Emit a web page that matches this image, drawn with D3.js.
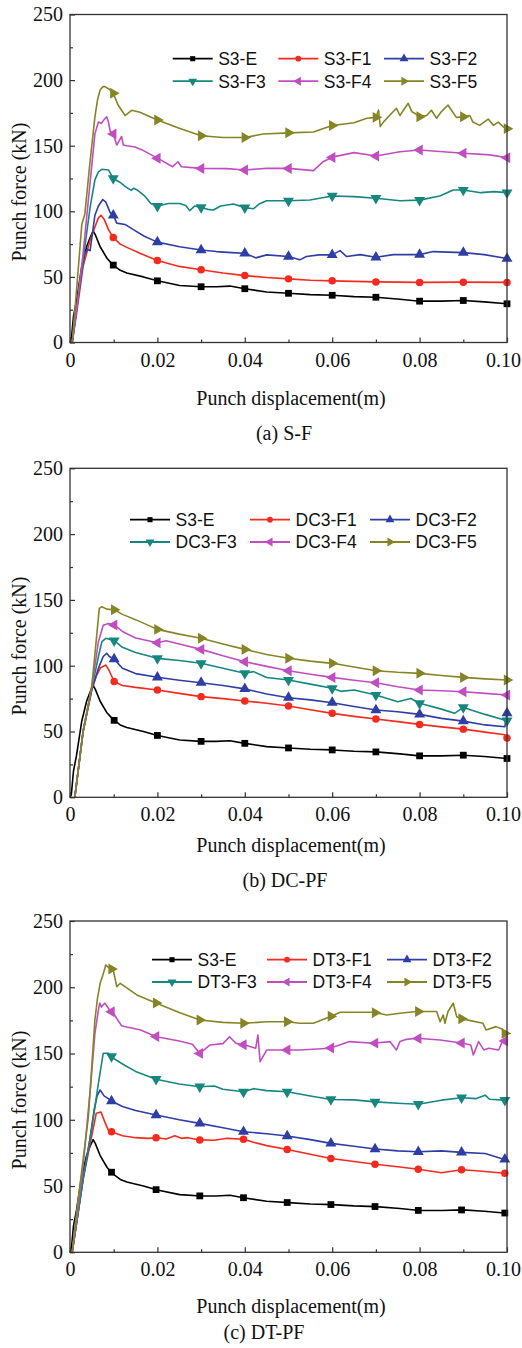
<!DOCTYPE html>
<html>
<head>
<meta charset="utf-8">
<script src="https://cdn.jsdelivr.net/npm/d3@7"></script>
<style>
  html, body { margin: 0; padding: 0; background: #fff; }
  svg { display: block; }
  .tick text { font-family: "Liberation Serif", "Times New Roman", serif; font-size: 20px; fill: #111; }
  .tick line { stroke: #333; stroke-width: 1.2; }
  .axis-title, .caption { font-family: "Liberation Serif", "Times New Roman", serif; font-size: 20px; fill: #111; }
  .legend text { font-family: "Liberation Sans", Arial, sans-serif; font-size: 17.5px; fill: #111; }
</style>
</head>
<body>
<svg id="chart" width="522" height="1348"></svg>
<script>
// ---- Axis ticks ----
const xTicks = [0, 0.02, 0.04, 0.06, 0.08, 0.10];
const xMinorTicks = [0.01, 0.03, 0.05, 0.07, 0.09];
const yTicks = [0, 50, 100, 150, 200, 250];
const yMinorTicks = [25, 75, 125, 175, 225];

// ---- Reference specimen S3-E (same in all three groups): [displacement (m), force (kN)] ----
const s3E = [[0,0],[0.0003,2],[0.0008,20],[0.0015,32],[0.0027,58],[0.0038,73],[0.0046,80],[0.0053,85],[0.0058,82],[0.0069,73],[0.0085,64],[0.0099,59],[0.0115,55],[0.013,53],[0.0168,50],[0.02,47],[0.0251,43.5],[0.03,42.5],[0.0335,42.5],[0.0366,43],[0.04,41],[0.045,38.5],[0.05,37.5],[0.055,36.5],[0.06,36],[0.065,35],[0.07,34.5],[0.0755,33],[0.08,31.5],[0.085,31.5],[0.09,32],[0.0948,31],[0.1,29.5]];

// ---- (a) S-F ----
const s3F1 = [[0.0005,0],[0.0015,22],[0.003,58],[0.0046,78],[0.0057,88],[0.0065,95],[0.0071,97],[0.0078,94],[0.0088,86],[0.0099,80],[0.0115,75],[0.013,72.5],[0.016,68],[0.02,62.5],[0.025,58],[0.03,55.5],[0.035,53],[0.04,51],[0.045,49.5],[0.05,48.5],[0.055,47.5],[0.06,47],[0.07,46.2],[0.08,45.8],[0.09,46],[0.1,45.8]];
const s3F2 = [[0.0005,0],[0.0015,25],[0.0027,55],[0.0034,68],[0.004,71],[0.0046,70],[0.005,80],[0.0057,97],[0.0065,104],[0.0075,109],[0.0082,107],[0.0092,99],[0.0099,97],[0.0107,91],[0.0126,90],[0.0145,86],[0.017,81],[0.02,76.5],[0.0251,73],[0.03,70.5],[0.0335,69.3],[0.037,68.5],[0.04,68],[0.0425,64.5],[0.045,66.8],[0.05,65.5],[0.0526,63],[0.0541,65.5],[0.057,66.8],[0.06,66.8],[0.0618,70],[0.0633,65.5],[0.0664,67],[0.07,65],[0.074,67],[0.08,67],[0.0831,69.3],[0.09,68.5],[0.0948,67],[0.1,64]];
const s3F3 = [[0.0005,0],[0.0015,25],[0.003,63],[0.0046,103],[0.0057,124],[0.0065,130],[0.0073,132],[0.0088,131.5],[0.0099,125],[0.0115,122],[0.0126,119],[0.014,116],[0.0145,117.5],[0.0155,116],[0.017,112],[0.0185,106],[0.02,104],[0.0225,106],[0.0251,106],[0.0265,104.5],[0.0274,100.5],[0.0285,104],[0.03,103],[0.0315,101.5],[0.0328,101],[0.0345,104],[0.0374,105.5],[0.04,102.8],[0.042,102],[0.0435,106],[0.045,108],[0.05,108],[0.0549,108.6],[0.06,111.7],[0.065,111.2],[0.07,110],[0.0755,108],[0.08,108.5],[0.0846,111.7],[0.0877,116.2],[0.09,116.2],[0.094,114.2],[0.097,115],[0.1,114.2]];
const s3F4 = [[0.0005,0],[0.0015,25],[0.003,68],[0.0046,122],[0.0057,159],[0.0065,168],[0.0072,167],[0.0076,169],[0.0084,172],[0.0088,168],[0.0092,161],[0.0099,159],[0.0107,150.5],[0.0118,157],[0.0122,150.5],[0.013,150],[0.0149,149],[0.0165,146.8],[0.02,140.5],[0.0235,134],[0.0247,137.8],[0.0255,134],[0.03,132.7],[0.0359,132.5],[0.04,131.5],[0.045,132.7],[0.05,132.7],[0.0557,131],[0.058,138],[0.0603,141.5],[0.065,144.7],[0.07,142.2],[0.0755,145.4],[0.08,146.7],[0.09,144.2],[0.0961,143],[0.1,140.8]];
const s3F5 = [[0.0005,0],[0.0015,40],[0.0027,90],[0.0034,98],[0.0045,135],[0.0057,172],[0.0063,185],[0.0069,192.5],[0.0075,195],[0.008,195],[0.009,193],[0.0099,190],[0.011,181],[0.0126,173],[0.0141,177],[0.016,175.5],[0.02,169.6],[0.025,163.3],[0.03,157.6],[0.035,156.3],[0.04,156.3],[0.0442,158.9],[0.05,159.8],[0.0557,160.4],[0.06,165.4],[0.065,167.5],[0.0679,170.9],[0.07,171.6],[0.0706,177.2],[0.071,164.5],[0.0717,168],[0.0736,174.7],[0.0747,178.5],[0.0755,173],[0.0763,177],[0.0774,182.3],[0.0782,176],[0.0789,174.7],[0.08,172],[0.0816,173],[0.0827,177],[0.0839,170.9],[0.085,176],[0.0865,181],[0.0873,177],[0.0884,171.6],[0.09,172],[0.0915,173],[0.0922,168],[0.0937,165.5],[0.0957,170.3],[0.0969,165.5],[0.098,168],[0.0991,164.5],[0.1,163]];

// ---- (b) DC-PF ----
const dc3F1 = [[0.0011,0],[0.003,50],[0.005,82],[0.006,92],[0.007,98.5],[0.0082,100.5],[0.009,96],[0.0101,88],[0.012,85],[0.015,83.5],[0.02,81.5],[0.025,79],[0.03,76.5],[0.035,75],[0.04,73.2],[0.045,71.5],[0.05,69.4],[0.055,66.5],[0.06,63.8],[0.065,61.5],[0.07,59.5],[0.075,57.5],[0.08,55.4],[0.085,53.5],[0.09,51.8],[0.095,49.5],[0.0995,47.5],[0.1,45]];
const dc3F2 = [[0.0011,0],[0.003,50],[0.005,82],[0.0065,98],[0.0076,107],[0.0084,109.4],[0.009,107],[0.0101,105],[0.012,98],[0.015,94],[0.02,91.2],[0.025,89],[0.03,87.1],[0.035,85],[0.04,82.4],[0.045,78.5],[0.05,75.7],[0.055,74],[0.06,71.9],[0.065,69],[0.07,66.3],[0.075,65],[0.08,63],[0.085,60],[0.09,57.9],[0.095,55],[0.0995,53.6],[0.1,64]];
const dc3F3 = [[0.0011,0],[0.003,50],[0.005,83],[0.0065,107],[0.0073,118.3],[0.0082,120.8],[0.0092,120],[0.0101,119],[0.012,114],[0.015,110],[0.02,105.6],[0.025,104],[0.03,101.8],[0.035,98],[0.04,94.2],[0.042,95.5],[0.045,91],[0.05,89.1],[0.055,86],[0.06,82.8],[0.062,80.5],[0.065,81.5],[0.07,77.7],[0.075,72.6],[0.078,75.1],[0.08,71.4],[0.085,67],[0.088,63.8],[0.09,68.3],[0.095,63],[0.1,58.2]];
const dc3F4 = [[0.0011,0],[0.003,50],[0.005,84],[0.0065,118.2],[0.0076,130.8],[0.0088,132],[0.0101,131],[0.012,126],[0.015,121],[0.02,117.5],[0.022,119],[0.025,116.5],[0.03,112.4],[0.035,107.5],[0.04,103],[0.045,99.5],[0.05,96.2],[0.055,93.5],[0.06,91.1],[0.065,89],[0.07,87.1],[0.075,84],[0.08,81.5],[0.085,81],[0.09,80.2],[0.095,79],[0.1,77.7]];
const dc3F5 = [[0.0011,0],[0.003,50],[0.005,85],[0.0058,112],[0.0067,143.6],[0.0073,144.8],[0.0084,143],[0.0101,142.5],[0.012,139],[0.015,135],[0.02,127.6],[0.025,124],[0.03,120.8],[0.035,116.5],[0.04,112.4],[0.045,108.5],[0.05,105.6],[0.055,103.5],[0.06,101.8],[0.065,99],[0.07,96.2],[0.075,95],[0.08,94.2],[0.085,92.5],[0.09,91.1],[0.095,90],[0.1,89.1]];

// ---- (c) DT-PF ----
const dt3F1 = [[0.0005,0],[0.0015,22],[0.003,55],[0.0045,80],[0.006,104.9],[0.0071,105.8],[0.008,98],[0.0088,92],[0.0095,91],[0.012,88],[0.015,86.5],[0.018,86],[0.02,86.5],[0.022,85.5],[0.024,88],[0.0255,86],[0.027,86.5],[0.0297,84.8],[0.033,84.5],[0.036,86],[0.0397,85.3],[0.042,83],[0.045,80.5],[0.0497,77.6],[0.055,74],[0.0597,70.8],[0.065,68.5],[0.0698,66.5],[0.075,64.5],[0.0797,62.7],[0.085,60],[0.0896,62.3],[0.093,61.5],[0.0995,59.6]];
const dt3F2 = [[0.0005,0],[0.0015,22],[0.003,56],[0.0045,84],[0.0055,107],[0.0062,118],[0.0069,122.5],[0.0078,118],[0.0095,114.2],[0.012,110],[0.015,107],[0.0197,103.6],[0.025,100],[0.0297,97.3],[0.035,94],[0.0397,91],[0.045,89.5],[0.0497,87.7],[0.055,85],[0.0597,82.2],[0.065,80],[0.0698,77.9],[0.075,76.5],[0.0797,75.9],[0.085,76.5],[0.0896,75.4],[0.095,74.6],[0.0985,71],[0.0995,70.2]];
const dt3F3 = [[0.0005,0],[0.0015,22],[0.003,55],[0.005,94],[0.0065,127.5],[0.0076,150.2],[0.0088,150.2],[0.0099,146.4],[0.0126,141],[0.015,136.5],[0.0197,130.6],[0.025,127],[0.0297,124.9],[0.033,125.5],[0.035,123],[0.0397,121.1],[0.042,123.5],[0.045,122],[0.0497,121.1],[0.055,118],[0.0597,115.3],[0.065,115],[0.0698,113.5],[0.075,112.5],[0.0797,111.7],[0.085,114.8],[0.0896,116.6],[0.093,116],[0.095,118.6],[0.096,115.5],[0.0995,114.8]];
const dt3F4 = [[0.0005,0],[0.0015,25],[0.003,65],[0.0047,125],[0.0057,165],[0.0065,183],[0.0068,188],[0.0072,185],[0.0076,186.8],[0.008,188],[0.009,183],[0.0099,180.4],[0.0118,171],[0.013,170],[0.016,168],[0.0198,162.7],[0.025,159.5],[0.028,157],[0.0297,150.1],[0.032,156.4],[0.035,157.5],[0.0365,162.7],[0.038,157.7],[0.04,156.4],[0.0425,154],[0.043,164],[0.0435,143.9],[0.045,152.6],[0.0497,152.6],[0.0526,152.7],[0.0595,154],[0.064,159],[0.0694,157.7],[0.0732,159],[0.0747,152.7],[0.0755,159],[0.077,160.7],[0.0793,161.5],[0.0847,160.2],[0.09,157.7],[0.0917,156.4],[0.0923,148.9],[0.0935,159],[0.0947,152.7],[0.0958,154],[0.0981,152.7],[0.0989,159],[0.0997,159.5]];
const dt3F5 = [[0.0005,0],[0.0015,30],[0.003,70],[0.0042,102],[0.0057,175.3],[0.0063,192],[0.0069,203],[0.0075,209],[0.0082,216.8],[0.0088,215],[0.0099,213],[0.0107,200.5],[0.0115,203],[0.0153,194.2],[0.0198,188],[0.025,181],[0.0297,175.3],[0.035,173.5],[0.0397,172.8],[0.045,174],[0.0497,174],[0.0526,172.8],[0.0557,172.8],[0.0595,177.8],[0.0618,181.1],[0.0694,181.1],[0.0725,179.1],[0.0755,180.4],[0.0793,181.7],[0.0839,181.7],[0.0847,174],[0.0854,179.1],[0.0858,172.8],[0.0865,181.7],[0.0877,187.9],[0.0885,177.8],[0.0892,176.5],[0.0945,172.8],[0.0952,167.8],[0.0975,170.3],[0.099,168.3],[0.0999,162.7]];

// ---- Series names ----
const namesA = ["S3-E", "S3-F1", "S3-F2", "S3-F3", "S3-F4", "S3-F5"];
const namesB = ["S3-E", "DC3-F1", "DC3-F2", "DC3-F3", "DC3-F4", "DC3-F5"];
const namesC = ["S3-E", "DT3-F1", "DT3-F2", "DT3-F3", "DT3-F4", "DT3-F5"];

// Displacements at which the symbols are placed along each curve
const markerXA = [0.0099, 0.02, 0.03, 0.04, 0.05, 0.06, 0.07, 0.08, 0.09, 0.1];
const markerXB = [0.0101, 0.02, 0.03, 0.04, 0.05, 0.06, 0.07, 0.08, 0.09, 0.1];
const markerXC = [0.0095, 0.0197, 0.0297, 0.0397, 0.0497, 0.0597, 0.0698, 0.0797, 0.0896, 0.0995];

// ---- Styles (one per series position) ----
const styles = [
  { color: "#000000", shape: "square" },
  { color: "#f52a1e", shape: "circle" },
  { color: "#2e3ea5", shape: "up" },
  { color: "#16877f", shape: "down" },
  { color: "#c04ec0", shape: "left" },
  { color: "#858526", shape: "right" }
];

const panels = [
  { names: namesA, data: [s3E, s3F1, s3F2, s3F3, s3F4, s3F5], markerX: markerXA, caption: "(a) S-F",
    top: 14.5, bottom: 342.5, legendX: [172.7, 278.3, 384], legendBase: [65, 87.5],
    yTitleY: 192, xTitleBase: 405, captionX: 284, captionBase: 440 },
  { names: namesB, data: [s3E, dc3F1, dc3F2, dc3F3, dc3F4, dc3F5], markerX: markerXB, caption: "(b) DC-PF",
    top: 468.3, bottom: 797.3, legendX: [130, 250, 370], legendBase: [526, 548.3],
    yTitleY: 646, xTitleBase: 852, captionX: 285, captionBase: 887 },
  { names: namesC, data: [s3E, dt3F1, dt3F2, dt3F3, dt3F4, dt3F5], markerX: markerXC, caption: "(c) DT-PF",
    top: 921, bottom: 1252.3, legendX: [152, 267, 387], legendBase: [966, 988.3],
    yTitleY: 1100, xTitleBase: 1312.5, captionX: 264, captionBase: 1339 }
];

const svg = d3.select("#chart");
const plotLeft = 70, plotRight = 507;

function symbolPath(shape, size) {
  const type = shape === "square" ? d3.symbolSquare : shape === "circle" ? d3.symbolCircle : d3.symbolTriangle;
  return d3.symbol().type(type).size(size)();
}
function symbolRotation(shape) {
  return shape === "down" ? 180 : shape === "left" ? -90 : shape === "right" ? 90 : 0;
}
// Force on a curve at displacement xv (linear between recorded points)
function forceAt(series, xv) {
  const i = d3.bisector(d => d[0]).left(series, xv);
  if (i <= 0) return series[0][1];
  if (i >= series.length) return series[series.length - 1][1];
  const a = series[i - 1], b = series[i];
  return a[1] + (b[1] - a[1]) * (xv - a[0]) / (b[0] - a[0]);
}
const fmtX = d => d === 0 ? "0" : d.toFixed(2);

panels.forEach(p => {
  const g = svg.append("g");
  const x = d3.scaleLinear().domain([0, 0.1]).range([plotLeft, plotRight]);
  const y = d3.scaleLinear().domain([0, 250]).range([p.bottom, p.top]);

  // Curves
  const line = d3.line().x(d => x(d[0])).y(d => y(d[1]));
  p.data.forEach((series, k) => {
    g.append("path").datum(series)
      .attr("fill", "none").attr("stroke", styles[k].color)
      .attr("stroke-width", 1.6).attr("stroke-linejoin", "round")
      .attr("d", line);
  });
  // Symbols along the curves
  p.data.forEach((series, k) => {
    const st = styles[k];
    const size = st.shape === "square" ? 46 : st.shape === "circle" ? 44 : 52;
    g.append("g").selectAll("path").data(p.markerX).join("path")
      .attr("d", symbolPath(st.shape, size))
      .attr("fill", st.color)
      .attr("transform", xv => `translate(${x(xv)},${y(forceAt(series, xv))}) rotate(${symbolRotation(st.shape)})`);
  });

  // Frame
  g.append("rect").attr("x", plotLeft).attr("y", p.top)
    .attr("width", plotRight - plotLeft).attr("height", p.bottom - p.top)
    .attr("fill", "none").attr("stroke", "#333").attr("stroke-width", 1.3);

  // Axes with inward ticks
  const xAxis = g.append("g").attr("transform", `translate(0,${p.bottom})`)
    .call(d3.axisBottom(x).tickValues(xTicks).tickSize(-5).tickPadding(10).tickFormat(fmtX));
  xAxis.select(".domain").remove();
  // keep the last label inside the page edge
  xAxis.selectAll(".tick text").filter(d => d === 0.10).attr("dx", -4);
  const xMinor = g.append("g").attr("transform", `translate(0,${p.bottom})`)
    .call(d3.axisBottom(x).tickValues(xMinorTicks).tickSize(-3).tickFormat(""));
  xMinor.select(".domain").remove();

  const yAxis = g.append("g").attr("transform", `translate(${plotLeft},0)`)
    .call(d3.axisLeft(y).tickValues(yTicks).tickSize(-5).tickPadding(7));
  yAxis.select(".domain").remove();
  const yMinor = g.append("g").attr("transform", `translate(${plotLeft},0)`)
    .call(d3.axisLeft(y).tickValues(yMinorTicks).tickSize(-3).tickFormat(""));
  yMinor.select(".domain").remove();

  g.selectAll(".tick text").attr("font-family", null).attr("font-size", null);

  // Axis titles and caption
  g.append("text").attr("class", "axis-title")
    .attr("transform", `translate(26,${p.yTitleY}) rotate(-90)`)
    .attr("text-anchor", "middle").text("Punch force (kN)");
  g.append("text").attr("class", "axis-title")
    .attr("x", 291).attr("y", p.xTitleBase)
    .attr("text-anchor", "middle").text("Punch displacement(m)");
  g.append("text").attr("class", "caption")
    .attr("x", p.captionX).attr("y", p.captionBase)
    .attr("text-anchor", "middle").text(p.caption);

  // Legend: two rows of three
  const lg = g.append("g").attr("class", "legend");
  p.names.forEach((name, k) => {
    const col = k % 3, row = Math.floor(k / 3);
    const lx = p.legendX[col], base = p.legendBase[row], cy = base - 6.3;
    const st = styles[k];
    lg.append("line").attr("x1", lx).attr("x2", lx + 40).attr("y1", cy).attr("y2", cy)
      .attr("stroke", st.color).attr("stroke-width", 1.8);
    const size = st.shape === "square" ? 26 : st.shape === "circle" ? 26 : 34;
    lg.append("path").attr("d", symbolPath(st.shape, size)).attr("fill", st.color)
      .attr("transform", `translate(${lx + 20},${cy}) rotate(${symbolRotation(st.shape)})`);
    lg.append("text").attr("x", lx + 45.5).attr("y", base).text(name);
  });
});
</script>
</body>
</html>
